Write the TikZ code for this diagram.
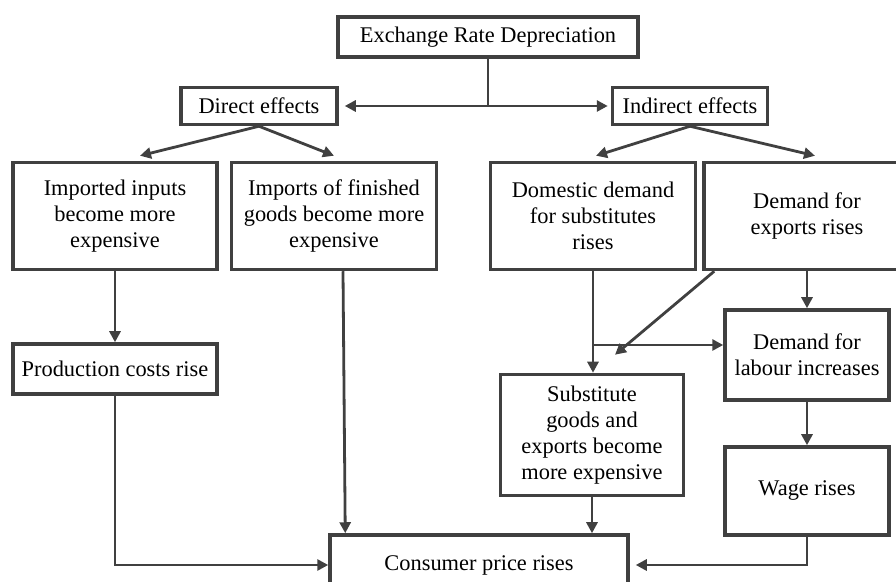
\documentclass[tikz,border=0pt]{standalone}
\usepackage{fontspec}
\setmainfont{Liberation Serif}
\usetikzlibrary{arrows.meta,positioning}

\definecolor{ink}{HTML}{404040}
\tikzset{
  box/.style={draw=ink,line width=1.75pt,align=center,inner sep=2pt,
    font=\fontsize{11.2}{13}\selectfont},
  link/.style={draw=ink,line width=1.4pt}
}

\begin{document}
\begin{tikzpicture}[x=0.5pt,y=-0.5pt,>={Triangle[length=5.5pt,width=5.5pt]}]
  \useasboundingbox (0,0) rectangle (896,582);

  \node[box,minimum width=150pt,minimum height=20pt] (erd) at (488,37) {Exchange Rate Depreciation};
  \node[box,minimum width=78pt,minimum height=18.5pt] (dir) at (259,106) {Direct effects};
  \node[box,minimum width=77.5pt,minimum height=18.5pt] (ind) at (690,106) {Indirect effects};

  \node[box,minimum width=102pt,minimum height=53.5pt] (inp) at (115,216) {Imported inputs\\become more\\expensive};
  \node[box,minimum width=102.5pt,minimum height=53.5pt] (fin) at (334,216) {Imports of finished\\goods become more\\expensive};
  \node[box,minimum width=102.5pt,minimum height=53.5pt] (dom) at (593,216) {Domestic demand\\for substitutes\\rises};
  \node[box,minimum width=103pt,minimum height=53.5pt] (exp) at (807,216) {Demand for\\exports rises};

  \node[box,minimum width=102pt,minimum height=25pt] (prod) at (115,369) {Production costs rise};
  \node[box,minimum width=82pt,minimum height=45pt] (lab) at (807,355) {Demand for\\labour increases};
  \node[box,minimum width=91.5pt,minimum height=60.5pt] (sub) at (592,435) {Substitute\\goods and\\exports become\\more expensive};
  \node[box,minimum width=82pt,minimum height=44pt] (wage) at (807,491) {Wage rises};
  \node[box,minimum width=149pt,minimum height=30pt] (cpr) at (479,565) {Consumer price rises};

  % top split
  \coordinate (split) at (erd.south |- dir.east);
  \coordinate (fork) at (593,345);
  \draw[link] (erd.south) -- (split);
  \draw[link,->,shorten >=3pt] (split) -- (dir.east);
  \draw[link,->,shorten >=1.5pt] (split) -- (ind.west);

  % direct effects
  \draw[link,->] (dir.south) -- ([xshift=12.5pt,yshift=2.5pt]inp.north);
  \draw[link,->] (dir.south) -- ([yshift=2.5pt]fin.north);
  \draw[link,->] (inp.south) -- (prod.north);
  \draw[link,->] (prod.south) |- (cpr.west);
  \draw[link,->] ([xshift=4.5pt]fin.south) -- ([xshift=8.5pt]cpr.north west);

  % indirect effects
  \draw[link,->] (ind.south) -- ([xshift=1.5pt,yshift=2.5pt]dom.north);
  \draw[link,->] (ind.south) -- ([xshift=4pt,yshift=2.5pt]exp.north);
  \draw[link,->] (dom.south) -- (dom.south |- sub.north);
  \draw[link,->] (fork) -- (fork -| lab.west);
  \draw[link,->] ([xshift=6pt]exp.south west) -- ([xshift=11.5pt,yshift=9pt]sub.north);
  \draw[link,->] (exp.south) -- (lab.north);
  \draw[link,->] (lab.south) -- (wage.north);
  \draw[link,->] (sub.south) -- (sub.south |- cpr.north);
  \draw[link,->,shorten >=3pt] (wage.south) |- (cpr.east);

\end{tikzpicture}
\end{document}
